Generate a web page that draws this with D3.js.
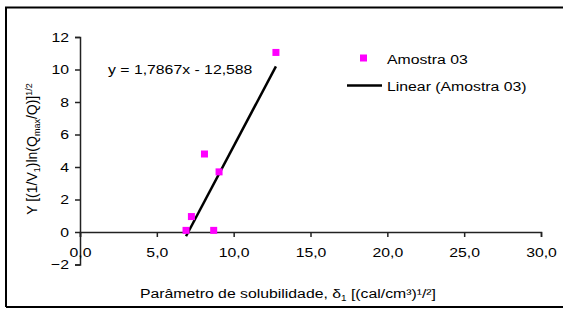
<!DOCTYPE html>
<html>
<head>
<meta charset="utf-8">
<script src="https://cdn.jsdelivr.net/npm/d3@7"></script>
<style>
  body { margin: 0; background: #fff; }
  text { font-family: "Liberation Sans", Arial, sans-serif; fill: #000; }
</style>
</head>
<body>
<div id="chart"></div>
<script>
// values
const xs = [6.9, 7.25, 8.1, 8.7, 9.05, 12.75]
const ys = [0.1, 0.95, 4.8, 0.1, 3.7, 11.05]
const slope = 1.7867
const intercept = -12.588
const xTicks = [0, 5, 10, 15, 20, 25, 30]
const yTicks = [-2, 0, 2, 4, 6, 8, 10, 12]
const seriesName = "Amostra 03"

const width = 563, height = 309
const stretch = 1.17   // the source picture is a bit wider than tall
const fs = 13.5
const svg = d3.select("#chart").append("svg")
    .attr("width", width)
    .attr("height", height)

// stretch horizontal text around its anchor point
const wide = (sel, ax, ay) =>
    sel.attr("transform", `translate(${ax},${ay}) scale(${stretch},1)`)
       .attr("x", 0).attr("y", 0)

// outer frame (left, top, bottom only)
svg.append("path")
    .attr("d", "M6,307 L6,7.5 L563,7.5 M6,307 L563,307")
    .attr("fill", "none")
    .attr("stroke", "#000")
    .attr("stroke-width", 2)

const x = d3.scaleLinear().domain([0, 30]).range([80, 541])
const y = d3.scaleLinear().domain([-2, 12]).range([264.5, 37])

const fmt = d => d3.format(".1f")(d).replace(".", ",")

// y axis
const yAxis = svg.append("g")
    .attr("transform", `translate(${x(0)},0)`)
    .call(d3.axisLeft(y).tickValues(yTicks).tickSize(5).tickPadding(5).tickFormat(d3.format("d")))
yAxis.select(".domain").attr("stroke", "#222").attr("stroke-width", 1.5)
yAxis.selectAll(".tick line").attr("stroke", "#222").attr("stroke-width", 1.5)
yAxis.selectAll("text").attr("font-size", fs).attr("fill", "#000")
    .attr("font-family", "Liberation Sans, Arial, sans-serif")
    .attr("x", -11 / stretch)
    .attr("transform", `scale(${stretch},1)`)

// x axis along y = 0
const xAxis = svg.append("g")
    .attr("transform", `translate(0,${y(0)})`)
    .call(d3.axisBottom(x).tickValues(xTicks).tickSize(5).tickPadding(10).tickFormat(fmt))
xAxis.select(".domain").attr("stroke", "#222").attr("stroke-width", 1.5)
xAxis.selectAll(".tick line").attr("stroke", "#222").attr("stroke-width", 1.5)
xAxis.selectAll("text").attr("font-size", fs).attr("fill", "#000")
    .attr("font-family", "Liberation Sans, Arial, sans-serif")
    .attr("transform", `scale(${stretch},1)`)

// trendline over the data range
const x0 = d3.min(xs), x1 = d3.max(xs)
svg.append("line")
    .attr("x1", x(x0)).attr("y1", y(slope * x0 + intercept))
    .attr("x2", x(x1)).attr("y2", y(slope * x1 + intercept))
    .attr("stroke", "#000")
    .attr("stroke-width", 2.5)

// markers
const pts = xs.map((v, i) => ({x: v, y: ys[i]}))
svg.append("g").selectAll("rect")
    .data(pts)
    .join("rect")
    .attr("x", d => x(d.x) - 3.5)
    .attr("y", d => y(d.y) - 3.5)
    .attr("width", 7)
    .attr("height", 7)
    .attr("fill", "#ff00ff")

// equation
svg.append("text")
    .attr("font-size", fs)
    .text("y = 1,7867x - 12,588")
    .call(wide, 108, 74)

// legend
svg.append("rect")
    .attr("x", 360).attr("y", 54.5).attr("width", 7).attr("height", 7)
    .attr("fill", "#ff00ff")
svg.append("text")
    .attr("font-size", fs)
    .text(seriesName)
    .call(wide, 387, 63.5)
svg.append("line")
    .attr("x1", 347).attr("x2", 382).attr("y1", 85.5).attr("y2", 85.5)
    .attr("stroke", "#000").attr("stroke-width", 2.5)
svg.append("text")
    .attr("font-size", fs)
    .text(`Linear (${seriesName})`)
    .call(wide, 387, 91)

// axis titles
const xt = svg.append("text")
    .attr("text-anchor", "middle")
    .attr("font-size", fs)
    .call(wide, 288, 298)
xt.append("tspan").text("Parâmetro de solubilidade, δ")
xt.append("tspan").attr("font-size", 8.5).attr("dy", 3).text("1")
xt.append("tspan").attr("dy", -3).text(" [(cal/cm³)¹/²]")

const yt = svg.append("text")
    .attr("transform", "translate(37,149) rotate(-90)")
    .attr("text-anchor", "middle")
    .attr("font-size", 14)
yt.append("tspan").text("Y [(1/V")
yt.append("tspan").attr("font-size", 9).attr("dy", 3).text("1")
yt.append("tspan").attr("dy", -3).text(")ln(Q")
yt.append("tspan").attr("font-size", 9).attr("dy", 3).text("max")
yt.append("tspan").attr("dy", -3).text("/Q)]")
yt.append("tspan").attr("font-size", 9).attr("dy", -5).text("1/2")
</script>
</body>
</html>
